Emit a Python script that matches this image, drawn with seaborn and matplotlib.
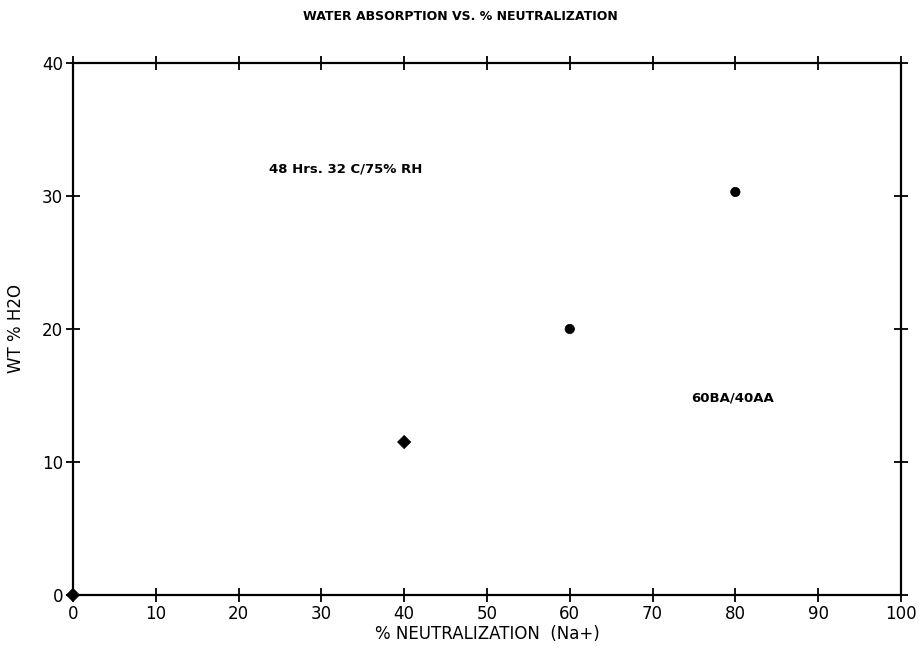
import matplotlib
matplotlib.use("Agg")
import matplotlib.pyplot as plt
import seaborn as sns
import pandas as pd

neutralization = [0, 40, 60, 80]
water_pct = [0.0, 11.5, 20.0, 30.3]
marker_kind = ["d", "d", "o", "o"]

x_ticks = [0, 10, 20, 30, 40, 50, 60, 70, 80, 90, 100]
y_ticks = [0, 10, 20, 30, 40]

df = pd.DataFrame({"x": neutralization, "y": water_pct, "m": marker_kind})

sns.set_theme(style="white")
plt.rcParams['font.family'] = ['DejaVu Sans']
plt.rcParams['text.color'] = 'black'
plt.rcParams['axes.labelcolor'] = 'black'

fig = plt.figure(figsize=(9.2, 6.65), dpi=100)
ax = fig.add_axes([0.0793, 0.1053, 0.9, 0.8])

sns.scatterplot(data=df, x="x", y="y", style="m", markers={"d": "D", "o": "o"},
                color="black", s=45, edgecolor="black", legend=False, ax=ax, clip_on=False)

ax.set_xlim(0, 100)
ax.set_ylim(0, 40)
ax.set_xticks(x_ticks)
ax.set_yticks(y_ticks)
ax.tick_params(direction="inout", length=10, width=1.3, colors="black",
               top=True, right=True, bottom=True, left=True, labelsize=12, pad=2)
for s in ax.spines.values():
    s.set_color("black")
    s.set_linewidth(1.6)
    s.set_visible(True)

ax.set_xlabel("% NEUTRALIZATION  (Na+)", fontsize=12, labelpad=2, color="black")
ax.set_ylabel("WT % H2O", fontsize=12, labelpad=12, color="black")
fig.text(0.5, 0.975, "WATER ABSORPTION VS. % NEUTRALIZATION", ha="center", va="center",
         fontsize=9, fontweight="bold", color="black")
ax.text(23.7, 32.0, "48 Hrs. 32 C/75% RH", fontsize=9.5, fontweight="bold", va="center", color="black")
ax.text(74.7, 14.8, "60BA/40AA", fontsize=9.5, fontweight="bold", va="center", color="black")

fig.savefig("out.png", dpi=100, facecolor="white")
